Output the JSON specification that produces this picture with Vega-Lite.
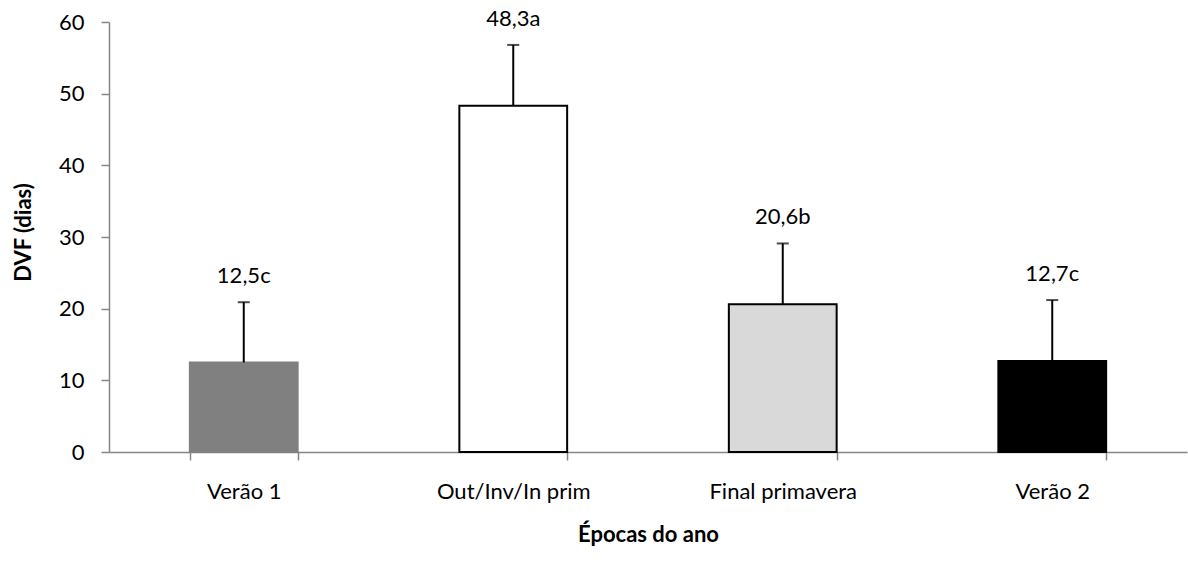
{
  "$schema": "https://vega.github.io/schema/vega-lite/v6.json",
  "width": 1078,
  "height": 430,
  "autosize": {"type": "none"},
  "padding": {"left": 109, "top": 22, "right": 1, "bottom": 110},
  "background": "white",
  "config": {
    "font": "Lato",
    "view": {"stroke": null},
    "axis": {
      "domainColor": "#868686",
      "domainWidth": 1.5,
      "tickColor": "#868686",
      "tickWidth": 1.5,
      "tickSize": 8,
      "labelColor": "#000000",
      "labelFontSize": 22,
      "titleColor": "#000000",
      "titleFontSize": 22,
      "titleFontWeight": "bold",
      "grid": false
    }
  },
  "data": {
    "values": [
      {"epoca": "Verão 1", "dvf": 12.5, "sup": 20.9, "rotulo": "12,5c"},
      {"epoca": "Out/Inv/In prim", "dvf": 48.3, "sup": 56.8, "rotulo": "48,3a"},
      {"epoca": "Final primavera", "dvf": 20.6, "sup": 29.1, "rotulo": "20,6b"},
      {"epoca": "Verão 2", "dvf": 12.7, "sup": 21.2, "rotulo": "12,7c"}
    ]
  },
  "encoding": {
    "x": {
      "field": "epoca",
      "type": "nominal",
      "sort": null,
      "scale": {"paddingInner": 0.6, "paddingOuter": 0.3},
      "axis": {
        "title": "Épocas do ano",
        "labelAngle": 0,
        "labelPadding": 21,
        "tickBand": "extent",
        "titleX": 539,
        "titleY": 82,
        "titleBaseline": "middle"
      }
    }
  },
  "layer": [
    {
      "mark": {"type": "bar", "strokeWidth": 2},
      "encoding": {
        "y": {
          "field": "dvf",
          "type": "quantitative",
          "scale": {"domain": [0, 60], "nice": false},
          "axis": {
            "title": "DVF (dias)",
            "values": [0, 10, 20, 30, 40, 50, 60],
            "labelPadding": 17,
            "titleX": -86,
            "titleY": 210,
            "titleAngle": -90,
            "titleAlign": "center",
            "titleBaseline": "middle"
          }
        },
        "fill": {
          "field": "epoca",
          "type": "nominal",
          "scale": {
            "domain": ["Verão 1", "Out/Inv/In prim", "Final primavera", "Verão 2"],
            "range": ["#808080", "#ffffff", "#d9d9d9", "#000000"]
          },
          "legend": null
        },
        "stroke": {
          "field": "epoca",
          "type": "nominal",
          "scale": {
            "domain": ["Verão 1", "Out/Inv/In prim", "Final primavera", "Verão 2"],
            "range": ["#808080", "#000000", "#000000", "#000000"]
          },
          "legend": null
        }
      }
    },
    {
      "mark": {"type": "rule", "color": "#000000", "strokeWidth": 2},
      "encoding": {
        "y": {"field": "dvf", "type": "quantitative"},
        "y2": {"field": "sup"}
      }
    },
    {
      "mark": {"type": "tick", "color": "#000000", "size": 12, "thickness": 2},
      "encoding": {
        "y": {"field": "sup", "type": "quantitative"}
      }
    },
    {
      "mark": {"type": "text", "fontSize": 22, "color": "#000000", "baseline": "alphabetic", "dy": -19},
      "encoding": {
        "y": {"field": "sup", "type": "quantitative"},
        "text": {"field": "rotulo"}
      }
    }
  ]
}
